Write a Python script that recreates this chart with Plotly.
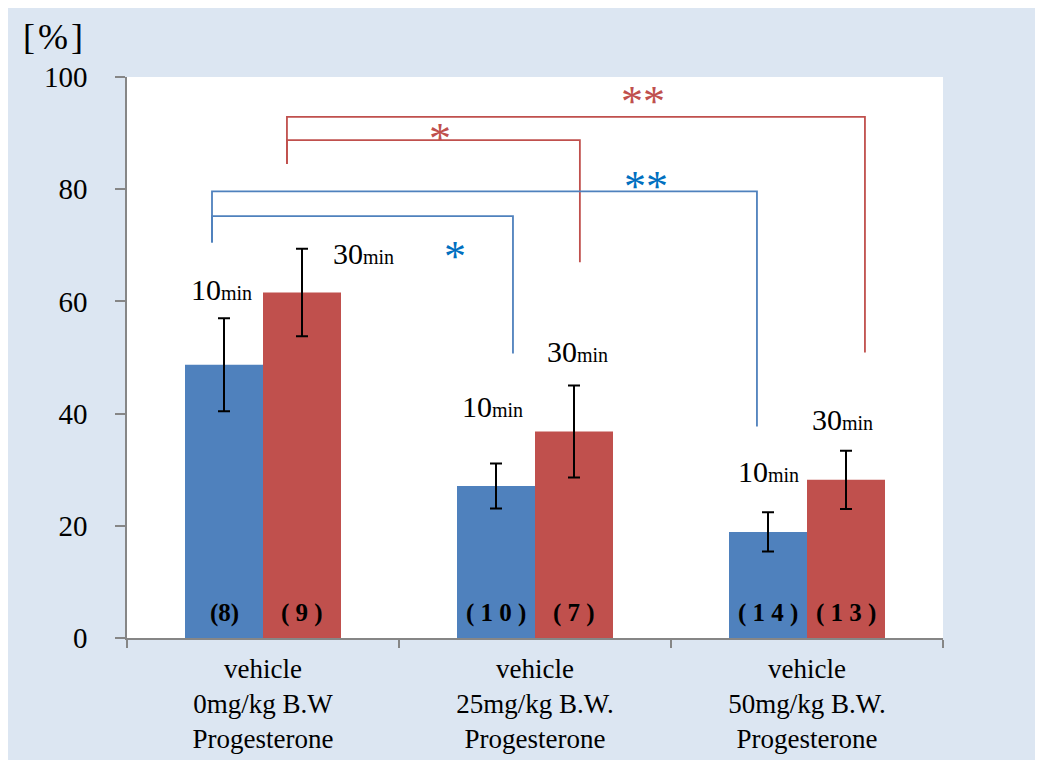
import plotly.graph_objects as go

# ---- data ----
categories = [
    "vehicle<br>0mg/kg B.W<br>Progesterone",
    "vehicle<br>25mg/kg B.W.<br>Progesterone",
    "vehicle<br>50mg/kg B.W.<br>Progesterone",
]
series_names = ["10min", "30min"]
values_10min = [48.7, 27.1, 18.9]
values_30min = [61.6, 36.8, 28.2]
err_10min = [8.3, 4.0, 3.5]
err_30min = [7.8, 8.2, 5.2]
n_10min = ["(8)", "( 1 0 )", "( 1 4 )"]
n_30min = ["( 9 )", "( 7 )", "( 1 3 )"]
y_ticks = [0, 20, 40, 60, 80, 100]

# label placement (category index units / y units)
min_label_pos_10 = [(-0.151, 62.1), (0.842, 41.2), (1.857, 29.6)]
min_label_pos_30 = [(0.371, 68.6), (1.158, 51.1), (2.132, 38.9)]
n_label_y = 4.5

# significance brackets: (x-left, x-right, y-top, y-left-bottom, y-right-bottom)
brackets_red = [(0.088, 2.213, 92.9, 84.5, 50.9), (0.088, 1.165, 88.75, 84.5, 67.0)]
brackets_blue = [(-0.1875, 1.816, 79.6, 70.5, 37.7), (-0.1875, 0.919, 75.2, 70.5, 50.7)]
stars = [("*", 0.651, 89.0, "red"), ("**", 1.397, 95.7, "red"),
         ("**", 1.408, 80.4, "blue"), ("*", 0.706, 68.0, "blue")]

BLUE = "#4f81bd"
RED = "#c0504d"
STAR_BLUE = "#0070c0"
BG = "#dce6f2"
FONT = "Liberation Serif"
AXIS = "#868686"
BARGAP = 0.4265

fig = go.Figure()
fig.add_trace(go.Bar(
    x=categories, y=values_10min, name=series_names[0], marker_color=BLUE,
    marker_line_width=0,
    error_y=dict(type="data", array=err_10min, color="black", thickness=2, width=6),
))
fig.add_trace(go.Bar(
    x=categories, y=values_30min, name=series_names[1], marker_color=RED,
    marker_line_width=0,
    error_y=dict(type="data", array=err_30min, color="black", thickness=2, width=6),
))

shapes = []
for color, group in ((RED, brackets_red), (BLUE, brackets_blue)):
    for xl, xr, yt, ylb, yrb in group:
        shapes.append(dict(type="path", xref="x", yref="y",
                           path=f"M {xl},{ylb} L {xl},{yt} L {xr},{yt} L {xr},{yrb}",
                           line=dict(color=color, width=1.8)))

annotations = []
bar_off = (1 - BARGAP) / 4
for i in range(len(categories)):
    annotations.append(dict(x=i - bar_off, y=n_label_y, xref="x", yref="y", showarrow=False,
                            text=n_10min[i],
                            font=dict(family=FONT, size=25, color="black", weight="bold")))
    annotations.append(dict(x=i + bar_off, y=n_label_y, xref="x", yref="y", showarrow=False,
                            text=n_30min[i],
                            font=dict(family=FONT, size=25, color="black", weight="bold")))
for (x, y) in min_label_pos_10:
    annotations.append(dict(x=x, y=y, xref="x", yref="y", showarrow=False,
                            text="10<span style='font-size:20px'>min</span>",
                            font=dict(family=FONT, size=30, color="black")))
for (x, y) in min_label_pos_30:
    annotations.append(dict(x=x, y=y, xref="x", yref="y", showarrow=False,
                            text="30<span style='font-size:20px'>min</span>",
                            font=dict(family=FONT, size=30, color="black")))
for s, x, y, c in stars:
    annotations.append(dict(x=x, y=y, xref="x", yref="y", showarrow=False, text=s,
                            font=dict(family=FONT, size=44,
                                      color=RED if c == "red" else STAR_BLUE)))
annotations.append(dict(x=-0.0907, y=1.0713, xref="paper", yref="paper", showarrow=False,
                        xanchor="center", yanchor="middle",
                        text="[\u200a%\u200a]", font=dict(family=FONT, size=36, color="black")))

fig.update_layout(
    width=1035, height=752,
    margin=dict(l=119, r=100, t=69, b=122),
    paper_bgcolor=BG, plot_bgcolor="white",
    barmode="group", bargap=BARGAP, bargroupgap=0,
    showlegend=False,
    shapes=shapes, annotations=annotations,
    font=dict(family=FONT, color="black"),
)
fig.update_xaxes(
    type="category", tickson="boundaries", ticks="outside", ticklen=8, tickwidth=1.5,
    tickcolor=AXIS, showline=True, linecolor=AXIS, linewidth=1.5, showgrid=False,
    tickfont=dict(family=FONT, size=27, color="black"), range=[-0.5, 2.5],
    ticklabelstandoff=6, automargin=False,
)
fig.update_yaxes(
    range=[0, 100], tickvals=y_ticks, ticks="outside", ticklen=10, tickwidth=1.5,
    tickcolor=AXIS, showline=True, linecolor=AXIS, linewidth=1.5, showgrid=False,
    zeroline=False, tickfont=dict(family=FONT, size=29, color="black"),
    ticklabelstandoff=22, automargin=False,
)

fig.write_html("out.html")
